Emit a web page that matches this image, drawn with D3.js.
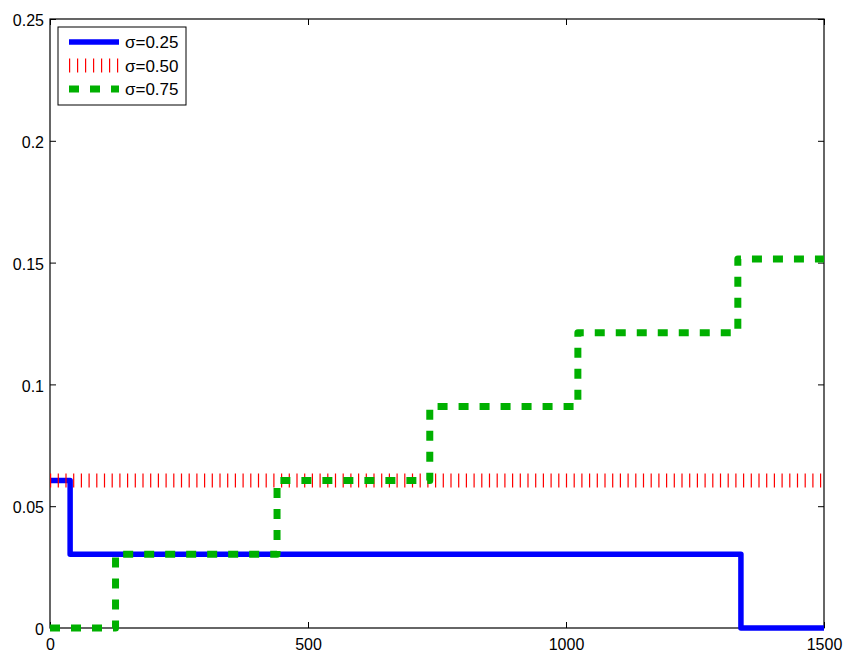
<!DOCTYPE html>
<html>
<head>
<meta charset="utf-8">
<script src="https://cdn.jsdelivr.net/npm/d3@7"></script>
<style>
  body { margin: 0; background: #fff; }
  text { font-family: "Liberation Sans", Arial, sans-serif; font-size: 16px; fill: #000; }
</style>
</head>
<body>
<div id="chart"></div>
<script>
// Step change points (x where each level starts)
let blueX = [0, 39, 1339, 1500];
let blueY = [0.0606, 0.0303, 0, 0];
let redX = [0, 1500];
let redY = [0.0606, 0.0606];
let greenX = [0, 127, 440, 736, 1023, 1333, 1500];
let greenY = [0, 0.0303, 0.0606, 0.0909, 0.1212, 0.1515, 0.1515];

let xTicks = [0, 500, 1000, 1500];
let yTicks = [0, 0.05, 0.1, 0.15, 0.2, 0.25];
let legendLabels = ["σ=0.25", "σ=0.50", "σ=0.75"];

// Set the dimensions and margins of the graph
let margin = {top: 19, right: 22, bottom: 24, left: 50},
    width = 846 - margin.left - margin.right,
    height = 652 - margin.top - margin.bottom;

let x = d3.scaleLinear().domain([0, 1500]).range([0, width]);
let y = d3.scaleLinear().domain([0, 0.25]).range([height, 0]);

let svg = d3.select("#chart").append("svg")
    .attr("width", 846)
    .attr("height", 652)
    .append("g")
    .attr("transform", "translate(" + margin.left + "," + margin.top + ")");

// Axes: ticks inside, mirrored on top and right
let tl = 6;
svg.append("g")
    .attr("transform", "translate(0," + height + ")")
    .call(d3.axisBottom(x).tickValues(xTicks).tickSizeInner(-tl).tickSizeOuter(0).tickPadding(11).tickFormat(d3.format("d")));
svg.append("g")
    .call(d3.axisTop(x).tickValues(xTicks).tickSizeInner(-tl).tickSizeOuter(0).tickFormat(""));
svg.append("g")
    .attr("class", "yaxis")
    .call(d3.axisLeft(y).tickValues(yTicks).tickSizeInner(-tl).tickSizeOuter(0).tickPadding(6).tickFormat(d => d === 0 ? "0" : d3.format("")(d)));
svg.append("g")
    .attr("transform", "translate(" + width + ",0)")
    .call(d3.axisRight(y).tickValues(yTicks).tickSizeInner(-tl).tickSizeOuter(0).tickFormat(""));

svg.selectAll(".domain").remove();
svg.selectAll(".tick line").attr("stroke", "#000");
svg.selectAll(".tick text").style("font-size", "16px");
svg.selectAll(".yaxis .tick text").attr("dy", "0.42em");

svg.append("rect")
    .attr("width", width).attr("height", height)
    .attr("fill", "none").attr("stroke", "#000").attr("stroke-width", 1.2);

let line = d3.line()
    .x(d => x(d[0]))
    .y(d => y(d[1]))
    .curve(d3.curveStepAfter);

let styles = [
    {color: "#0000ff", w: 5.5, dash: null},
    {color: "#ff0000", w: 14, dash: "1.2,6.5"},
    {color: "#00b000", w: 7, dash: "10,11"}
];
let series = [d3.zip(blueX, blueY), d3.zip(redX, redY), d3.zip(greenX, greenY)];

series.forEach(function(s, i) {
    svg.append("path")
        .datum(s)
        .attr("d", line)
        .attr("fill", "none")
        .attr("stroke", styles[i].color)
        .attr("stroke-width", styles[i].w)
        .attr("stroke-dasharray", styles[i].dash)
        .attr("stroke-linejoin", "round");
});

// Legend
let legend = svg.append("g").attr("transform", "translate(8,8)");
legend.append("rect")
    .attr("width", 128).attr("height", 78)
    .attr("fill", "#fff").attr("stroke", "#000").attr("stroke-width", 1);
legendLabels.forEach(function(lab, i) {
    let ly = 15 + i * 23.5;
    legend.append("line")
        .attr("x1", 11).attr("x2", 61)
        .attr("y1", ly).attr("y2", ly)
        .attr("stroke", styles[i].color)
        .attr("stroke-width", styles[i].w)
        .attr("stroke-dasharray", i === 1 ? "1.2,6.8" : styles[i].dash);
    legend.append("text")
        .attr("x", 67).attr("y", ly)
        .attr("dy", "0.38em")
        .style("font-size", "17px")
        .text(lab);
});
</script>
</body>
</html>
